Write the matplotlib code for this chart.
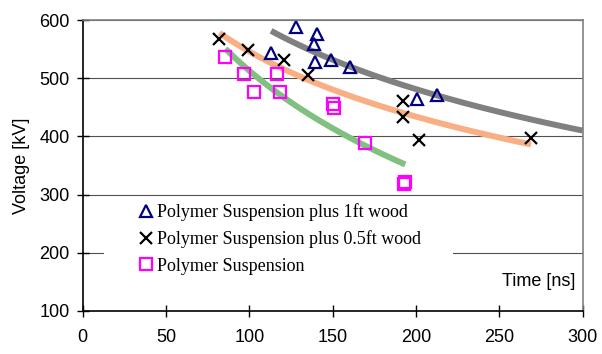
import numpy as np
import matplotlib
matplotlib.use("Agg")
import matplotlib.pyplot as plt
from matplotlib.patches import Rectangle

# measured breakdown points: time [ns], voltage [kV]
t_wood_1ft = [113, 128, 139, 139.4, 140.4, 148.8, 160.4, 200.4, 212.4]
v_wood_1ft = [543, 588, 558, 527, 576, 531, 519, 465, 471]

t_wood_05ft = [82, 99, 121, 135, 192, 192, 202, 269]
v_wood_05ft = [567, 548, 531, 506, 461, 434, 393, 397]

t_polymer = [85.6, 96.8, 102.8, 116.4, 118.4, 150, 151, 169.4, 193, 193.5]
v_polymer = [536, 508, 477, 508, 477, 455, 449, 388, 319, 322]

labels = ["Polymer Suspension plus 1ft wood",
          "Polymer Suspension plus 0.5ft wood",
          "Polymer Suspension"]

x_ticks = [0, 50, 100, 150, 200, 250, 300]
y_ticks = [100, 200, 300, 400, 500, 600]


def log_trend(t, v, t_end=None):
    # logarithmic trendline v = a + b*ln(t)
    b, a = np.polyfit(np.log(t), v, 1)
    t0 = min(t)
    t1 = max(t) if t_end is None else t_end
    tt = np.linspace(t0, t1, 100)
    return tt, a + b * np.log(tt)


fig = plt.figure(figsize=(6.02, 3.54), dpi=100)
ax = fig.add_axes([0.1374, 0.1215, 0.8306, 0.822])

ax.set_xlim(0, 300)
ax.set_ylim(100, 600)
ax.set_xticks(x_ticks)
ax.set_yticks(y_ticks)

for y in y_ticks[1:]:
    ax.axhline(y, color="#505050", lw=0.8, zorder=1)

# white box behind the legend
ax.add_patch(Rectangle((0.043, 0.09), 0.698, 0.302, transform=ax.transAxes,
                       facecolor="white", edgecolor="none", zorder=2))

tt, vv = log_trend(t_wood_1ft, v_wood_1ft, t_end=300)
ax.plot(tt, vv, color="#808080", lw=4.3, solid_capstyle="butt", zorder=3)
tt, vv = log_trend(t_wood_05ft, v_wood_05ft)
ax.plot(tt, vv, color="#F9AE84", lw=4.3, solid_capstyle="butt", zorder=3)
tt, vv = log_trend(t_polymer, v_polymer)
ax.plot(tt, vv, color="#80C080", lw=4.3, solid_capstyle="butt", zorder=3)

h1, = ax.plot(t_wood_1ft, v_wood_1ft, ls="none", marker="^", ms=8,
              mfc="none", mec="#000080", mew=1.6, zorder=4)
h2, = ax.plot(t_wood_05ft, v_wood_05ft, ls="none", marker="x", ms=8.5,
              mec="black", mew=1.6, zorder=4)
h3, = ax.plot(t_polymer, v_polymer, ls="none", marker="s", ms=8,
              mfc="none", mec="#FF00FF", mew=1.6, zorder=4)

leg = ax.legend([h1, h2, h3], labels, loc="upper left",
                bbox_to_anchor=(0.112, 0.371), frameon=False,
                prop={"family": "Liberation Serif", "size": 13},
                handlelength=0.8, handletextpad=0.2, labelspacing=0.52,
                borderpad=0, borderaxespad=0)
leg.set_zorder(5)

ax.text(0.985, 0.1, "Time [ns]", transform=ax.transAxes, ha="right",
        va="center", fontsize=13, family="Liberation Sans", zorder=5)
ax.set_ylabel("Voltage [kV]", fontsize=13, family="Liberation Sans",
              labelpad=7)

for lab in ax.get_xticklabels() + ax.get_yticklabels():
    lab.set_family("Liberation Sans")
    lab.set_fontsize(13)

ax.tick_params(direction="inout", length=8.5, width=1, color="black")
ax.tick_params(axis="x", pad=9)
ax.tick_params(axis="y", pad=5)

ax.spines["left"].set_color("black")
ax.spines["bottom"].set_color("black")
ax.spines["top"].set_color("#808080")
ax.spines["right"].set_color("#808080")
for s in ax.spines.values():
    s.set_linewidth(1.2)
    s.set_zorder(6)

fig.savefig("out.png", dpi=100)
